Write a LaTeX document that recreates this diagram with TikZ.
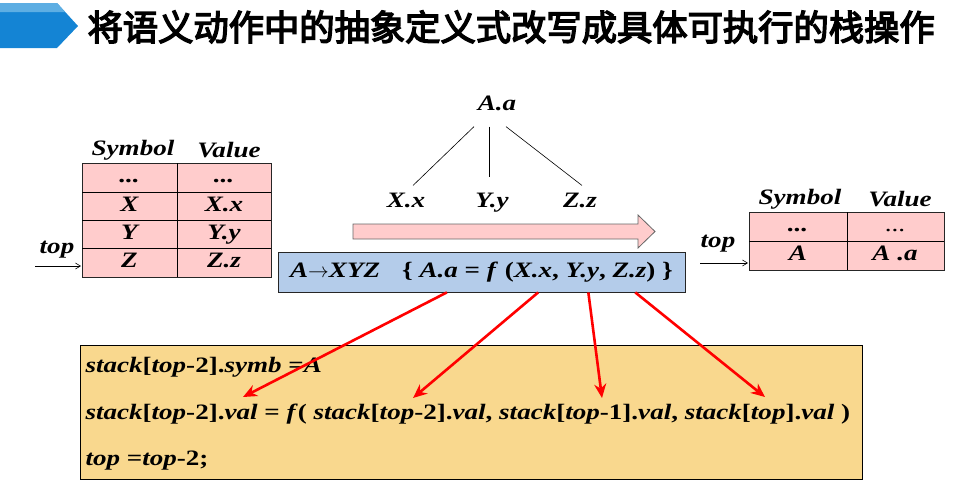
\documentclass[tikz,border=0pt]{standalone}
\usepackage{fontspec}
\setmainfont{Liberation Serif}[FakeStretch=1.23]
\newfontfamily\cjk{Noto Sans CJK SC}[FakeBold=4]
\usepackage{xcolor}
\usetikzlibrary{arrows.meta, positioning, calc}

\definecolor{headblue}{RGB}{20,132,212}
\definecolor{headlight}{RGB}{93,174,227}
\definecolor{cellpink}{RGB}{255,204,204}
\definecolor{ruleblue}{RGB}{180,204,234}
\definecolor{codeyellow}{RGB}{249,216,142}
\newcommand{\up}[1]{\textup{#1}}

\begin{document}
\begin{tikzpicture}[x=1pt, y=-1pt, font=\fontsize{22}{26}\selectfont\bfseries\itshape,
  cell/.style={draw=black!85, line width=0.6pt, fill=cellpink},
  celltext/.style={text height=14pt, text depth=4pt},
  tree/.style={line width=0.6pt},
  toparrow/.style={line width=0.6pt, -{Straight Barb[length=5pt,width=6pt]}},
  redarrow/.style={draw=red, line width=2.6pt, -{Stealth[length=14pt,width=12pt]}}]
  \useasboundingbox (0,0) rectangle (963,493);
  % ---- title bar ----
  \fill[headblue] (0,3) -- (57,3) -- (78,26) -- (57,48) -- (0,48) -- cycle;
  \fill[headlight] (0,3) -- (57,3) -- (65.2,12) -- (0,12) -- cycle;
  \node[anchor=west, font=\cjk\fontsize{35.3}{38}\selectfont] (title) at (84,27)
    {将语义动作中的抽象定义式改写成具体可执行的栈操作};
  % ---- left stack ----
  \node (lsymh) at (133,150) {Symbol};
  \node (lvalh) at (229,150) {Value};
  \draw[cell] (82,163) rectangle (271,277);
  \draw[line width=0.6pt] (177,163) -- (177,277);
  \foreach \y in {192,220,248} \draw[line width=0.6pt] (82,\y) -- (271,\y);
  \node[celltext] (l1s) at (129.5,177.5) {...};
  \node[celltext] (l1v) at (224,177.5) {...};
  \node[celltext] (l2s) at (129.5,206) {X};
  \node[celltext] (l2v) at (224,206) {X.x};
  \node[celltext] (l3s) at (129.5,234) {Y};
  \node[celltext] (l3v) at (224,234) {Y.y};
  \node[celltext] (l4s) at (129.5,262.5) {Z};
  \node[celltext] (l4v) at (224,262.5) {Z.z};
  \node (ltop) at (57,250) {top};
  \coordinate (ltail) at (35,266);
  \coordinate (lhead) at (81,266);
  \draw[toparrow] (ltail) -- (lhead);
  % ---- right stack ----
  \node (rsymh) at (800,199) {Symbol};
  \node (rvalh) at (900,199) {Value};
  \draw[cell] (749,212) rectangle (944,270);
  \draw[line width=0.6pt] (847,212) -- (847,270);
  \draw[line width=0.6pt] (749,241) -- (944,241);
  \node[celltext] (r1s) at (798,226.5) {...};
  \node[celltext, font=\fontsize{22}{26}\selectfont] (r1v) at (895,226.5) {...};
  \node[celltext] (r2s) at (798,255.5) {A};
  \node[celltext] (r2v) at (895,255.5) {A .a};
  \node (rtop) at (718,244) {top};
  \coordinate (rtail) at (700,263);
  \coordinate (rhead) at (748,263);
  \draw[toparrow] (rtail) -- (rhead);
  % ---- attribute tree ----
  \node[inner ysep=16pt] (Aa) at (497,103) {A.a};
  \node[celltext] (Xx) at (406,202) {X.x};
  \node[celltext] (Yy) at (492,202) {Y.y};
  \node[celltext] (Zz) at (580,202) {Z.z};
  \draw[tree] ([xshift=-23pt]Aa.south) -- ([xshift=7pt,yshift=4pt]Xx.north);
  \draw[tree] ([xshift=-8pt]Aa.south) -- ([xshift=-3pt,yshift=12pt]Yy.north);
  \draw[tree] ([xshift=9pt]Aa.south) -- ([xshift=2pt,yshift=4pt]Zz.north);
  % ---- direction arrow ----
  \draw[fill=cellpink, draw=black!60, line width=0.8pt]
    (353,224) -- (638,224) -- (638,215) -- (655,231.5) -- (638,248) -- (638,239) -- (353,239) -- cycle;
  % ---- production with action ----
  \node[draw=black!85, fill=ruleblue, minimum width=407, minimum height=40, inner sep=0pt, line width=0.8pt]
    (rule) at (481.5,272)
    {A\up{$\rightarrow$}XYZ\hspace{22pt}\up{\{} A.a \up{=} f \up{(}X.x\up{,} Y.y\up{,} Z.z\up{)} \up{\}}};
  % ---- stack code ----
  \node[draw=black, fill=codeyellow, minimum width=782, minimum height=134, inner sep=0pt, line width=0.8pt]
    (code) at (471,412) {};
  \node[anchor=west] (line1) at (82,367) {stack\up{[}top\up{-2].}symb \up{=}A};
  \node[anchor=west] (line2) at (82,414)
    {stack\up{[}top\up{-2].}val \up{=} f\up{(} stack\up{[}top\up{-2].}val\up{,} stack\up{[}top\up{-1].}val\up{,} stack\up{[}top\up{].}val \up{)}};
  \node[anchor=west] (line3) at (82,461) {top \up{=}top\up{-2;}};
  % ---- red links ----
  \coordinate (t1) at (243,397);
  \coordinate (t2) at (413,398);
  \coordinate (t3) at (602,398);
  \coordinate (t4) at (765,397);
  \draw[redarrow] ($(rule.south west)!.415!(rule.south east)$) -- (t1);
  \draw[redarrow] ($(rule.south west)!.639!(rule.south east)$) -- (t2);
  \draw[redarrow] ($(rule.south west)!.762!(rule.south east)$) -- (t3);
  \draw[redarrow] ($(rule.south west)!.877!(rule.south east)$) -- (t4);
\end{tikzpicture}
\end{document}
